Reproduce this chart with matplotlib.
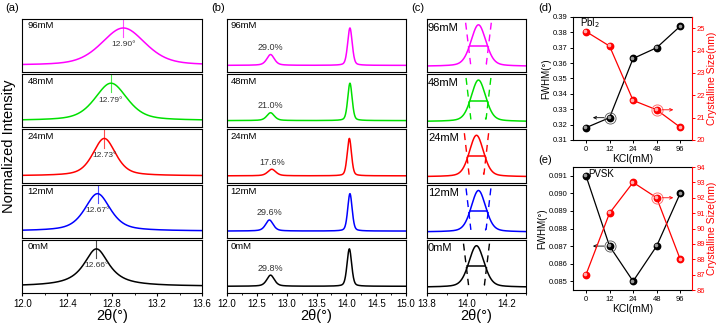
import numpy as np
import matplotlib.pyplot as plt
from matplotlib.ticker import MultipleLocator
from matplotlib.transforms import ScaledTranslation

plt.rcParams['font.family'] = ['Liberation Sans', 'DejaVu Sans']

# samples, bottom row first
samples = ['0mM', '12mM', '24mM', '48mM', '96mM']

# (a) PbI2 (001) reflection: position, FWHM (deg) and Lorentzian fraction
pbi2_pos = [12.66, 12.67, 12.73, 12.79, 12.90]
pbi2_width = [0.27, 0.27, 0.24, 0.34, 0.46]
pbi2_eta = [0.9, 0.6, 0.5, 0.5, 0.4]

# (b) PbI2 / perovskite intensity ratio (%) and peak positions
ratio_pct = [29.8, 29.6, 17.6, 21.0, 29.0]
pbi2_pos_b = [12.73, 12.71, 12.75, 12.73, 12.73]
pbi2_width_b = [0.15, 0.15, 0.16, 0.15, 0.15]
pvsk_pos = [14.05, 14.06, 14.05, 14.06, 14.06]

# (d) PbI2 and (e) perovskite: FWHM and crystalline size vs KCl
kcl = ['0', '12', '24', '48', '96']
pbi2_fwhm = [0.318, 0.3245, 0.363, 0.370, 0.384]
pbi2_size = [24.85, 24.2, 21.77, 21.35, 20.57]
pvsk_fwhm = [0.091, 0.087, 0.085, 0.087, 0.090]
pvsk_size = [87, 91, 93, 92, 88]

colors = ['black', 'blue', 'red', '#00e000', 'magenta']
TICK_FS = 7
LABEL_FS = 10.5


def peak(x, center, fwhm, eta):
    """Pseudo-Voigt profile with unit height."""
    u = (x - center) / fwhm
    return eta / (1 + 4 * u ** 2) + (1 - eta) * np.exp(-4 * np.log(2) * u ** 2)


def stack_axes(fig, left, right):
    gs = fig.add_gridspec(5, 1, left=left, right=right, top=0.9417,
                          bottom=0.1012, hspace=0.04)
    axes = [fig.add_subplot(gs[i, 0]) for i in range(5)]
    for ax in axes:
        ax.set_yticks([])
        for sp in ax.spines.values():
            sp.set_linewidth(0.8)
    for ax in axes[:-1]:
        ax.tick_params(axis='x', which='both', bottom=False, labelbottom=False)
    bottom = axes[-1]
    bottom.tick_params(axis='x', which='major', direction='out', length=2.5,
                       width=0.8, labelsize=TICK_FS, pad=1.5)
    bottom.tick_params(axis='x', which='minor', direction='out', length=1.5,
                       width=0.6)
    bottom.set_xlabel('2θ(°)', fontsize=LABEL_FS, labelpad=0)
    # top row is the highest concentration
    return axes[::-1]


def plot_shift(axes):
    x = np.linspace(12.0, 13.6, 600)
    for i, ax in enumerate(axes):
        y = peak(x, pbi2_pos[i], pbi2_width[i], pbi2_eta[i])
        ax.plot(x, y, color=colors[i], lw=1.1)
        ax.axvline(pbi2_pos[i], ymin=0.66, ymax=1.0, color=colors[i], lw=0.8, alpha=0.7)
        ax.text(pbi2_pos[i], 0.55, f'{pbi2_pos[i]:.2f}°', fontsize=6,
                ha='center', va='center', color='#333333')
        ax.text(0.03, 0.87, samples[i], transform=ax.transAxes, fontsize=6.8,
                va='center')
        ax.set_xlim(12.0, 13.6)
        ax.set_ylim(-0.18, 1.24)
    axes[0].xaxis.set_major_locator(MultipleLocator(0.4))
    axes[0].xaxis.set_minor_locator(MultipleLocator(0.2))
    axes[0].xaxis.set_major_formatter(lambda v, p: f'{v:.1f}')


def plot_ratio(axes):
    x = np.linspace(12.0, 15.0, 1500)
    for i, ax in enumerate(axes):
        y = (peak(x, pvsk_pos[i], pvsk_fwhm[i], 0.3)
             + ratio_pct[i] / 100 * peak(x, pbi2_pos_b[i], pbi2_width_b[i], 0.5))
        ax.plot(x, y, color=colors[i], lw=1.1)
        ax.text(pbi2_pos_b[i], ratio_pct[i] / 100 + 0.19, f'{ratio_pct[i]:.1f}%',
                fontsize=6.5, ha='center', va='center', color='#333333')
        ax.text(0.02, 0.87, samples[i], transform=ax.transAxes, fontsize=6.8,
                va='center')
        ax.set_xlim(12.0, 15.0)
        ax.set_ylim(-0.18, 1.24)
    axes[0].xaxis.set_major_locator(MultipleLocator(0.5))
    axes[0].xaxis.set_minor_locator(MultipleLocator(0.25))
    axes[0].xaxis.set_major_formatter(lambda v, p: f'{v:.1f}')


def plot_width(axes):
    x = np.linspace(13.8, 14.3, 800)
    for i, ax in enumerate(axes):
        c, w = pvsk_pos[i], pvsk_fwhm[i]
        ax.plot(x, peak(x, c, w, 0.3), color=colors[i], lw=1.1)
        # half-maximum bar and flank guides
        ax.plot([c - w / 2, c + w / 2], [0.5, 0.5], color=colors[i], lw=1.1)
        for s in (-1, 1):
            ax.plot([c + s * 0.72 * w, c + s * 0.44 * w], [1.05, 0.05],
                    color=colors[i], lw=1.0, dashes=(5, 3.5))
        ax.plot([c + 0.4 * w], [0.08], marker='|', ms=2, color=colors[i], mew=0.8)
        ax.text(0.01, 0.84, samples[i], transform=ax.transAxes, fontsize=8,
                va='center')
        ax.set_xlim(13.8, 14.3)
        ax.set_ylim(-0.14, 1.14)
    axes[0].xaxis.set_major_locator(MultipleLocator(0.2))
    axes[0].xaxis.set_minor_locator(MultipleLocator(0.1))
    axes[0].xaxis.set_major_formatter(lambda v, p: f'{v:.1f}')


def balls(ax, xs, ys, color, shine):
    ax.plot(xs, ys, color=color, lw=0.9, marker='o', ms=4.6, mfc=color, mec=color)
    off = ax.transData + ScaledTranslation(-0.5 / 72, 0.5 / 72, ax.figure.dpi_scale_trans)
    ax.plot(xs, ys, ls='none', marker='o', ms=1.6, color=shine, transform=off)


def plot_size(ax, fwhm, size, tag, left_ticks, right_ticks):
    idx = np.arange(len(kcl))
    ax2 = ax.twinx()
    balls(ax, idx, fwhm, 'black', '#9a9a9a')
    balls(ax2, idx, size, 'red', '#ffb0b0')

    # highlighted points with arrows toward their axis
    ax.plot(idx[1], fwhm[1], ls='none', marker='o', ms=8, mfc='none', mec='#555555', mew=0.6)
    ax.annotate('', xy=(idx[1], fwhm[1]), xytext=(-12, 0), textcoords='offset points',
                arrowprops=dict(arrowstyle='<-', color='black', lw=0.6,
                                shrinkA=0, shrinkB=4, mutation_scale=5))
    ax2.plot(idx[3], size[3], ls='none', marker='o', ms=8, mfc='none', mec='#ff7070', mew=0.7)
    ax2.annotate('', xy=(idx[3], size[3]), xytext=(12, 0), textcoords='offset points',
                 arrowprops=dict(arrowstyle='<-', color='red', lw=0.6,
                                 shrinkA=0, shrinkB=4, mutation_scale=5))

    ax.set_xlim(-0.55, 4.5)
    ax.set_xticks(idx)
    ax.set_xticklabels(kcl)
    ax.set_ylim(*left_ticks[:2])
    ax.set_yticks(left_ticks[2])
    ax2.set_ylim(*right_ticks[:2])
    ax2.set_yticks(right_ticks[2])

    ax.tick_params(direction='out', length=2.5, width=0.7, labelsize=5.5, pad=1.5)
    ax2.tick_params(direction='out', length=2, width=0.7, labelsize=5.5, pad=1,
                    colors='red')
    for sp in ax.spines.values():
        sp.set_linewidth(0.8)
    ax.spines['right'].set_visible(False)
    for name, sp in ax2.spines.items():
        sp.set_visible(name == 'right')
    ax2.spines['right'].set_color('red')
    ax2.spines['right'].set_linewidth(0.8)

    ax.set_xlabel('KCl(mM)', fontsize=7.5, labelpad=1)
    ax.set_ylabel('FWHM(°)', fontsize=7, labelpad=1)
    ax2.set_ylabel('Crystalline Size(nm)', fontsize=7.5, color='red', labelpad=2)
    ax.text(0.06, 0.95, tag, transform=ax.transAxes, fontsize=7, va='center')


def main():
    fig = plt.figure(figsize=(7.17, 3.26), dpi=100)

    plot_shift(stack_axes(fig, 0.0311, 0.2817))
    plot_ratio(stack_axes(fig, 0.3166, 0.5663))
    plot_width(stack_axes(fig, 0.5955, 0.7336))

    ax_d = fig.add_axes([0.7992, 0.5706, 0.1659, 0.3773])
    plot_size(ax_d, pbi2_fwhm, pbi2_size, 'PbI$_2$',
              (0.31, 0.39, np.arange(0.31, 0.3951, 0.01)),
              (20, 25.5, np.arange(20, 26)))
    ax_d.yaxis.set_major_formatter(lambda v, p: f'{v:.2f}')

    ax_e = fig.add_axes([0.7992, 0.1104, 0.1659, 0.3773])
    plot_size(ax_e, pvsk_fwhm, pvsk_size, 'PVSK',
              (0.0845, 0.0915, np.arange(0.085, 0.09151, 0.001)),
              (86, 94, np.arange(86, 95)))
    ax_e.yaxis.set_major_formatter(lambda v, p: f'{v:.3f}')
    ax_e.texts[-1].set_x(0.125)
    ax_e.texts[-1].set_y(0.94)

    fig.text(0.012, 0.55, 'Normalized Intensity', rotation=90, fontsize=LABEL_FS,
             ha='center', va='center')
    for label, xp, yp in [('(a)', 12, 8), ('(b)', 218, 8), ('(c)', 418, 8),
                          ('(d)', 545, 8), ('(e)', 545, 160)]:
        fig.text(xp / 717, 1 - yp / 326, label, fontsize=8, ha='center', va='center')

    fig.savefig('out.png', dpi=100)
    plt.close(fig)


if __name__ == '__main__':
    main()
